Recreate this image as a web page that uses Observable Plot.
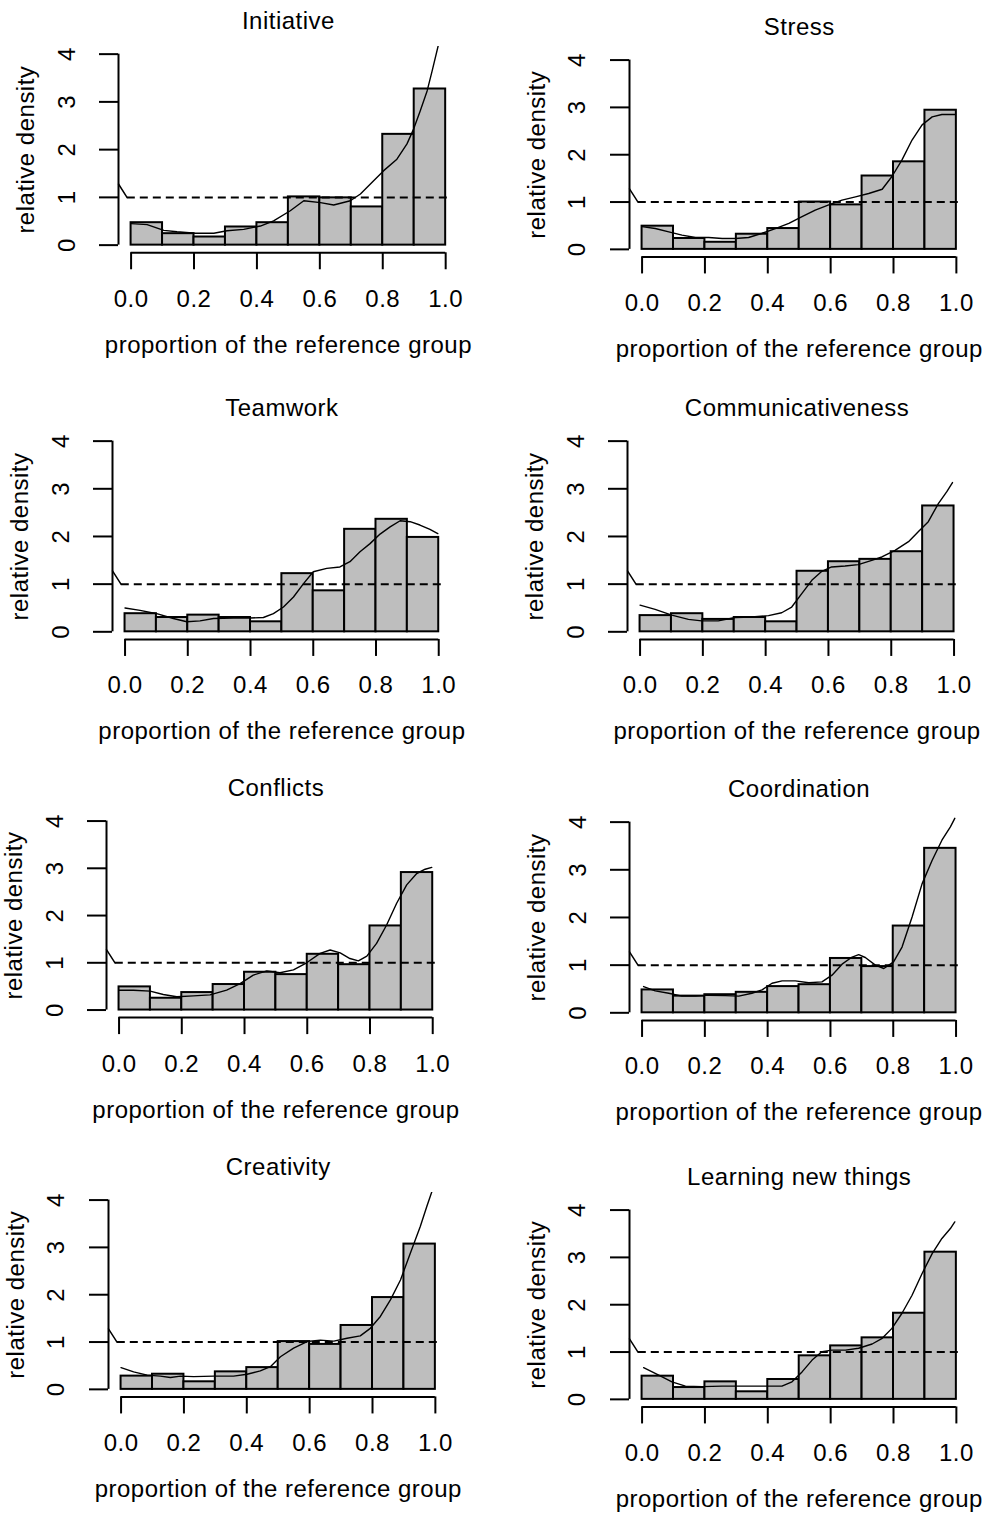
<!DOCTYPE html>
<html><head><meta charset="utf-8">
<script src="https://cdn.jsdelivr.net/npm/d3@7"></script>
<script src="https://cdn.jsdelivr.net/npm/@observablehq/plot@0.6"></script>
<style>
html,body{margin:0;padding:0;background:#fff;overflow:hidden;}
#chart{position:relative;width:989px;height:1515px;background:#fff;}
#chart svg{position:absolute;}
</style></head><body><div id="chart"></div>
<script>
// ---------- data ----------
const titles = ["Initiative","Stress","Teamwork","Communicativeness","Conflicts","Coordination","Creativity","Learning new things"];
const binEdges = [0,0.1,0.2,0.3,0.4,0.5,0.6,0.7,0.8,0.9,1.0];
const xTicks = [0,0.2,0.4,0.6,0.8,1.0];
const yTicks = [0,1,2,3,4];
const xLabel = "proportion of the reference group";
const yLabel = "relative density";
const referenceLevel = [1];
const breakX = [-0.04,-0.013];
const breakY = [1.28,1.0];

const initiativeBars = [0.47,0.24,0.17,0.38,0.47,1.01,0.99,0.80,2.32,3.27];
const initiativeCurveX = [0,0.051,0.104,0.146,0.204,0.263,0.305,0.358,0.411,0.453,0.506,0.549,0.602,0.644,0.697,0.729,0.771,0.803,0.845,0.877,0.898,0.919,0.941,0.957,0.976];
const initiativeCurveY = [0.45,0.43,0.31,0.28,0.25,0.25,0.30,0.33,0.40,0.51,0.72,0.93,0.89,0.84,0.93,1.07,1.35,1.56,1.80,2.12,2.43,2.81,3.23,3.65,4.17];

const stressBars = [0.49,0.23,0.15,0.32,0.44,1.00,0.94,1.55,1.85,2.94];
const stressCurveX = [0,0.042,0.085,0.127,0.170,0.212,0.255,0.297,0.339,0.382,0.424,0.467,0.509,0.551,0.594,0.636,0.679,0.721,0.764,0.795,0.827,0.859,0.891,0.923,0.954,0.997];
const stressCurveY = [0.48,0.44,0.37,0.30,0.25,0.25,0.23,0.23,0.25,0.34,0.44,0.55,0.69,0.83,0.94,1.04,1.11,1.18,1.27,1.54,1.89,2.31,2.63,2.80,2.85,2.85];

const teamworkBars = [0.38,0.30,0.35,0.30,0.21,1.22,0.86,2.15,2.36,1.98];
const teamworkCurveX = [0,0.048,0.101,0.154,0.197,0.239,0.282,0.345,0.399,0.441,0.473,0.505,0.537,0.569,0.600,0.643,0.685,0.717,0.749,0.781,0.813,0.845,0.877,0.909,0.940,0.972,0.997];
const teamworkCurveY = [0.50,0.45,0.38,0.28,0.21,0.23,0.28,0.29,0.29,0.30,0.38,0.52,0.73,1.01,1.26,1.33,1.36,1.47,1.68,1.85,2.05,2.20,2.33,2.31,2.24,2.15,2.06];

const communicativenessBars = [0.34,0.38,0.26,0.30,0.21,1.27,1.47,1.52,1.68,2.64];
const communicativenessCurveX = [0,0.048,0.101,0.154,0.196,0.249,0.303,0.356,0.409,0.451,0.483,0.515,0.547,0.579,0.610,0.653,0.695,0.738,0.770,0.812,0.855,0.886,0.918,0.950,0.977,0.995];
const communicativenessCurveY = [0.56,0.47,0.35,0.26,0.23,0.23,0.30,0.31,0.34,0.40,0.52,0.80,1.08,1.27,1.36,1.38,1.41,1.50,1.57,1.71,1.89,2.10,2.31,2.69,2.94,3.13];

const conflictsBars = [0.49,0.25,0.37,0.54,0.80,0.75,1.18,0.96,1.78,2.91];
const conflictsCurveX = [0,0.046,0.099,0.141,0.184,0.237,0.290,0.343,0.386,0.428,0.471,0.513,0.556,0.598,0.641,0.673,0.705,0.736,0.763,0.790,0.821,0.853,0.885,0.917,0.949,0.976,0.997];
const conflictsCurveY = [0.42,0.42,0.40,0.33,0.28,0.30,0.32,0.42,0.56,0.74,0.83,0.79,0.85,1.00,1.20,1.27,1.21,1.09,1.04,1.14,1.41,1.80,2.26,2.65,2.89,2.98,3.02];

const coordinationBars = [0.48,0.35,0.38,0.43,0.55,0.59,1.14,0.97,1.82,3.45];
const coordinationCurveX = [0.005,0.042,0.085,0.127,0.170,0.212,0.265,0.308,0.350,0.382,0.414,0.446,0.488,0.531,0.573,0.605,0.637,0.669,0.690,0.711,0.743,0.770,0.801,0.828,0.860,0.892,0.924,0.955,0.982,0.996];
const coordinationCurveY = [0.55,0.46,0.41,0.35,0.35,0.37,0.36,0.35,0.41,0.48,0.62,0.67,0.67,0.63,0.65,0.79,1.02,1.17,1.22,1.16,1.00,0.93,1.07,1.38,2.01,2.71,3.20,3.62,3.90,4.08];

const creativityBars = [0.28,0.32,0.16,0.37,0.46,1.01,0.95,1.35,1.94,3.07];
const creativityCurveX = [0,0.040,0.083,0.125,0.157,0.189,0.231,0.295,0.358,0.401,0.443,0.475,0.507,0.549,0.592,0.634,0.677,0.719,0.761,0.793,0.825,0.857,0.889,0.920,0.952,0.973,0.989];
const creativityCurveY = [0.46,0.37,0.30,0.28,0.25,0.28,0.27,0.28,0.28,0.32,0.39,0.48,0.69,0.87,1.01,1.04,1.02,1.08,1.13,1.29,1.54,1.89,2.31,2.87,3.44,3.87,4.18];

const learningBars = [0.49,0.25,0.37,0.16,0.42,0.92,1.13,1.30,1.82,3.11];
const learningCurveX = [0.005,0.053,0.095,0.138,0.191,0.255,0.318,0.382,0.445,0.477,0.509,0.541,0.573,0.604,0.647,0.689,0.732,0.764,0.795,0.827,0.859,0.891,0.923,0.954,0.981,0.995];
const learningCurveY = [0.67,0.51,0.37,0.28,0.27,0.28,0.28,0.28,0.28,0.37,0.58,0.83,1.01,1.04,1.04,1.08,1.17,1.29,1.50,1.82,2.20,2.66,3.08,3.40,3.61,3.75];

// ---------- layout (pixel anchors of x=0, x=1, y=0, y=4 per panel) ----------
const anchors = [
  [130.7,445.3,244.3,53.3],
  [641.7,956.0,249.3,60.0],
  [125.0,438.7,631.7,441.0],
  [640.0,954.0,631.7,441.0],
  [119.0,432.7,1010.0,821.0],
  [641.7,955.7,1012.7,822.0],
  [120.7,435.0,1389.3,1200.0],
  [641.7,956.0,1399.3,1210.0]
];

const panels = [
  [initiativeBars, initiativeCurveX, initiativeCurveY],
  [stressBars, stressCurveX, stressCurveY],
  [teamworkBars, teamworkCurveX, teamworkCurveY],
  [communicativenessBars, communicativenessCurveX, communicativenessCurveY],
  [conflictsBars, conflictsCurveX, conflictsCurveY],
  [coordinationBars, coordinationCurveX, coordinationCurveY],
  [creativityBars, creativityCurveX, creativityCurveY],
  [learningBars, learningCurveX, learningCurveY]
];

const ML = 105, MR = 30, MT = 50, MB = 108, FONT = 24;
const xDom = [-0.04, 1.04], yDom = [-0.16, 4.16];
const chart = document.getElementById("chart");

panels.forEach(([bars, cx, cy], i) => {
  const [x0, x1, y0, y4] = anchors[i];
  const sx = x1 - x0, sy = (y0 - y4) / 4;
  const fW = sx * (xDom[1] - xDom[0]), fH = sy * (yDom[1] - yDom[0]);
  const fLeft = x0 + xDom[0] * sx, fTop = y0 - yDom[1] * sy;
  const barData = bars.map((v, j) => ({a: binEdges[j], b: binEdges[j + 1], v}));
  const curve = cx.map((x, j) => ({x, y: cy[j]}));
  const brk = breakX.map((x, j) => ({x, y: breakY[j]}));
  const svg = Plot.plot({
    width: ML + fW + MR, height: MT + fH + MB,
    marginLeft: ML, marginRight: MR, marginTop: MT, marginBottom: MB,
    x: {domain: xDom}, y: {domain: yDom},
    style: {fontFamily: "'Liberation Sans', Arial, Helvetica, sans-serif", fontSize: FONT + "px", letterSpacing: "0.5px", overflow: "visible", background: "transparent", color: "black"},
    marks: [
      Plot.rect(barData, {x1: "a", x2: "b", y1: 0, y2: "v", fill: "#BEBEBE", stroke: "black", strokeWidth: 2, inset: 0}),
      Plot.ruleY(referenceLevel, {x1: -0.012, x2: 1.01, stroke: "black", strokeWidth: 2, strokeDasharray: "8,5"}),
      Plot.line(curve, {x: "x", y: "y", stroke: "black", strokeWidth: 1.4, clip: true}),
      Plot.line(brk, {x: "x", y: "y", stroke: "black", strokeWidth: 1.5}),
      Plot.ruleX([xDom[0]], {y1: yTicks[0], y2: yTicks[yTicks.length - 1], stroke: "black", strokeWidth: 2}),
      Plot.ruleY([yDom[0]], {x1: xTicks[0], x2: xTicks[xTicks.length - 1], stroke: "black", strokeWidth: 2}),
      Plot.axisY(yTicks, {tickSize: 19, fill: "none", stroke: "black", strokeWidth: 2}),
      Plot.axisX(xTicks, {tickSize: 17, fill: "none", stroke: "black", strokeWidth: 2}),
      Plot.text(yTicks, {x: xDom[0], y: d => d, text: d => String(d), rotate: -90, dx: -44, lineAnchor: "bottom", textAnchor: "middle", fontSize: FONT, fill: "black"}),
      Plot.text(xTicks, {x: d => d, frameAnchor: "bottom", text: d => d.toFixed(1), dy: 54, lineAnchor: "bottom", textAnchor: "middle", fontSize: FONT, fill: "black"}),
      Plot.text([xLabel], {frameAnchor: "bottom", dy: 100, lineAnchor: "bottom", textAnchor: "middle", fontSize: FONT, fill: "black"}),
      Plot.text([yLabel], {frameAnchor: "left", rotate: -90, dx: -85, lineAnchor: "bottom", textAnchor: "middle", fontSize: FONT, fill: "black"}),
      Plot.text([titles[i]], {frameAnchor: "top", dy: -17, lineAnchor: "bottom", textAnchor: "middle", fontSize: FONT, fill: "black"})
    ]
  });
  svg.style.left = (fLeft - ML) + "px";
  svg.style.top = (fTop - MT) + "px";
  chart.appendChild(svg);
});
</script></body></html>
